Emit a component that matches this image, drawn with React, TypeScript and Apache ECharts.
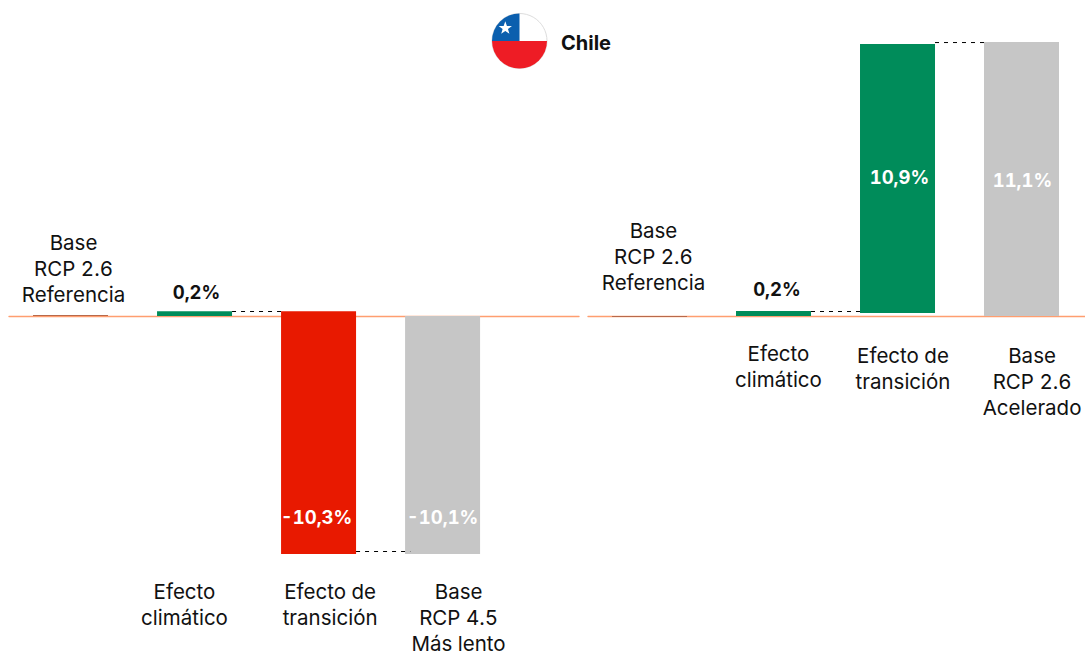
import React, { useEffect, useRef } from "react";
import * as echarts from "echarts";

const FONT = "Inter";
const GREEN = "#008C5A";
const RED = "#E81900";
const GREY = "#C6C6C6";

// Left panel
const leftCategories = ["Base\nRCP 2.6\nReferencia", "Efecto\nclimático", "Efecto de\ntransición", "Base\nRCP 4.5\nMás lento"];
const leftCategoryX = [0.024, 0.919, 2.093, 3.129];
const leftCategoryAnchors = [0.34, -11.16, -11.16, -11.16];
const leftClimate = 0.2;
const leftTransition = -10.3;
const leftResult = -10.1;
const leftLabelAnchor = -8.55;
const leftConnectorLevels = [0.191, -9.996];
// Right panel
const rightCategories = ["Base\nRCP 2.6\nReferencia", "Efecto\nclimático", "Efecto de\ntransición", "Base\nRCP 2.6\nAcelerado"];
const rightCategoryX = [0.032, 1.04, 2.044, 3.085];
const rightCategoryAnchors = [0.85, -1.01, -1.09, -1.09];
const rightClimate = 0.2;
const rightTransitionBase = 0.12;
const rightTransition = 10.9;
const rightResult = 11.1;
const rightLabelAnchor = 5.63;
const rightResultAnchor = 5.5;
const rightConnectorLevels = [0.182, 11.08];

const barHalf = 0.3024;
const BAR_PX = 75;

function pct(v: number) {
  return v.toFixed(1).replace(".", ",") + "%";
}

function bar(index: number, name: string, x: number, y: number, color: string, label?: object, extra: object = {}) {
  return {
    type: "bar",
    name,
    xAxisIndex: index,
    yAxisIndex: index,
    barGap: "-100%",
    barWidth: BAR_PX,
    silent: true,
    itemStyle: { color },
    label: label ?? { show: false },
    data: [[x, y]],
    ...extra,
  };
}

function floatingBar(index: number, name: string, x: number, from: number, to: number, color: string) {
  return {
    type: "custom",
    name,
    xAxisIndex: index,
    yAxisIndex: index,
    silent: true,
    encode: { x: 0, y: [1, 2] },
    data: [[x, from, to]],
    renderItem: (_p: unknown, api: any) => {
      const a = api.coord([api.value(0), api.value(1)]);
      const b = api.coord([api.value(0), api.value(2)]);
      return {
        type: "rect",
        shape: { x: a[0] - BAR_PX / 2, y: Math.min(a[1], b[1]), width: BAR_PX, height: Math.abs(a[1] - b[1]) },
        style: { fill: color },
      };
    },
  };
}

function whiteText(index: number, x: number, y: number, text: string, dx = 0) {
  return {
    type: "scatter",
    xAxisIndex: index,
    yAxisIndex: index,
    symbolSize: 0,
    silent: true,
    z: 6,
    itemStyle: { opacity: 1 },
    label: {
      show: true,
      position: "inside",
      offset: [dx, 0],
      formatter: text,
      color: "#fff",
      fontFamily: FONT,
      fontWeight: 700,
      fontSize: 18.5,
    },
    data: [[x, y]],
  };
}

function connector(index: number, from: number, to: number, y: number) {
  return {
    type: "line",
    xAxisIndex: index,
    yAxisIndex: index,
    symbol: "none",
    silent: true,
    z: 5,
    lineStyle: { color: "#000", width: 1, type: [4, 5] },
    data: [[from, y], [to, y]],
  };
}

function categoryLabels(index: number, cats: string[], xs: number[], anchors: number[]) {
  return cats.map((c, i) => ({
    type: "scatter",
    xAxisIndex: index,
    yAxisIndex: index,
    symbolSize: 0,
    silent: true,
    itemStyle: { opacity: 1 },
    label: {
      show: true,
      position: i === 0 ? "top" : "bottom",
      distance: 0,
      formatter: c,
      fontFamily: FONT,
      fontSize: 20.5,
      lineHeight: 26,
      color: "#111",
      align: "center",
    },
    data: [[xs[i], anchors[i]]],
  }));
}

function starPoints(cx: number, cy: number, r: number) {
  const pts: number[][] = [];
  for (let i = 0; i < 10; i++) {
    const rad = i % 2 === 0 ? r : r * 0.4;
    const a = -Math.PI / 2 + (i * Math.PI) / 5;
    pts.push([cx + rad * Math.cos(a), cy + rad * Math.sin(a)]);
  }
  return pts;
}

const climateLabel = (dx: number, distance: number) => ({
  show: true,
  position: "top",
  distance,
  offset: [dx, 0],
  color: "#111",
  fontFamily: FONT,
  fontWeight: 700,
  fontSize: 18.5,
});

export default function App() {
  const ref = useRef<HTMLDivElement>(null);
  useEffect(() => {
    document.body.style.margin = "0";
    const chart = echarts.init(ref.current!, null, { renderer: "svg" });
    const axisLine = { show: true, onZero: true, lineStyle: { color: "#FF9E70", width: 1.4 } };
    const xBase = {
      type: "value",
      splitLine: { show: false },
      axisTick: { show: false },
      axisLabel: { show: false },
      axisLine,
    };
    const yBase = {
      type: "value",
      show: false,
      splitLine: { show: false },
    };
    chart.setOption({
      animation: false,
      backgroundColor: "#fff",
      grid: [
        { left: 9, width: 570, top: 316 - 12 * 23.56, height: 26 * 23.56 },
        { left: 588, width: 497, top: 316 - 12 * 24.68, height: 25 * 24.68 },
      ],
      xAxis: [
        { ...xBase, gridIndex: 0, min: -0.496, max: 4.1 },
        { ...xBase, gridIndex: 1, min: -0.496, max: 3.512 },
      ],
      yAxis: [
        { ...yBase, gridIndex: 0, min: -14, max: 12 },
        { ...yBase, gridIndex: 1, min: -13, max: 12 },
      ],
      series: [
        // Left
        bar(0, "Base", 0, 0, "#B8694A", undefined, { barMinHeight: 1 }),
        bar(0, "Efecto climático", 1, leftClimate, GREEN, { ...climateLabel(2, 10), formatter: pct(leftClimate) }),
        floatingBar(0, "Efecto de transición", 2, leftClimate, leftClimate + leftTransition, RED),
        whiteText(0, 2, leftLabelAnchor, pct(leftTransition), -2),
        bar(0, "Base RCP 4.5", 3, leftResult, GREY),
        whiteText(0, 3, leftLabelAnchor, pct(leftResult)),
        connector(0, 1 + barHalf, 2 - barHalf, leftConnectorLevels[0]),
        connector(0, 2 + barHalf, 2.74, leftConnectorLevels[1]),
        ...categoryLabels(0, leftCategories, leftCategoryX, leftCategoryAnchors),
        // Right
        bar(1, "Base", 0, 0, "#B8694A", undefined, { barMinHeight: 1 }),
        bar(1, "Efecto climático", 1, rightClimate, GREEN, { ...climateLabel(3.5, 13), formatter: pct(rightClimate) }),
        floatingBar(1, "Efecto de transición", 2, rightTransitionBase, rightTransitionBase + rightTransition, GREEN),
        whiteText(1, 2, rightLabelAnchor, pct(rightTransition), 2),
        bar(1, "Base RCP 2.6", 3, rightResult, GREY),
        whiteText(1, 3, rightResultAnchor, pct(rightResult), 1),
        connector(1, 1 + barHalf, 2 - barHalf, rightConnectorLevels[0]),
        connector(1, 2 + barHalf, 3 - barHalf + 0.01, rightConnectorLevels[1]),
        ...categoryLabels(1, rightCategories, rightCategoryX, rightCategoryAnchors),
      ],
      graphic: [
        {
          type: "group",
          silent: true,
          children: [
            { type: "circle", shape: { cx: 519.5, cy: 41, r: 27.5 }, style: { fill: "#fff", stroke: "#DDD", lineWidth: 1 } },
            { type: "sector", shape: { cx: 519.5, cy: 41, r: 27.5, r0: 0, startAngle: 0, endAngle: Math.PI, clockwise: true }, style: { fill: "#EE1C25" } },
            { type: "sector", shape: { cx: 519.5, cy: 41, r: 27.5, r0: 0, startAngle: Math.PI, endAngle: Math.PI * 1.5, clockwise: true }, style: { fill: "#0B5FAE" } },
            { type: "polygon", shape: { points: starPoints(505.3, 28.2, 7) }, style: { fill: "#fff" } },
            {
              type: "text",
              x: 561,
              y: 43,
              style: {
                text: "Chile",
                fontFamily: FONT,
                fontWeight: 700,
                fontSize: 20,
                fill: "#111",
                verticalAlign: "middle",
              },
            },
          ],
        },
      ],
    });
    return () => chart.dispose();
  }, []);
  return <div ref={ref} style={{ width: 1085, height: 655, fontFeatureSettings: '"tnum"' }} />;
}
